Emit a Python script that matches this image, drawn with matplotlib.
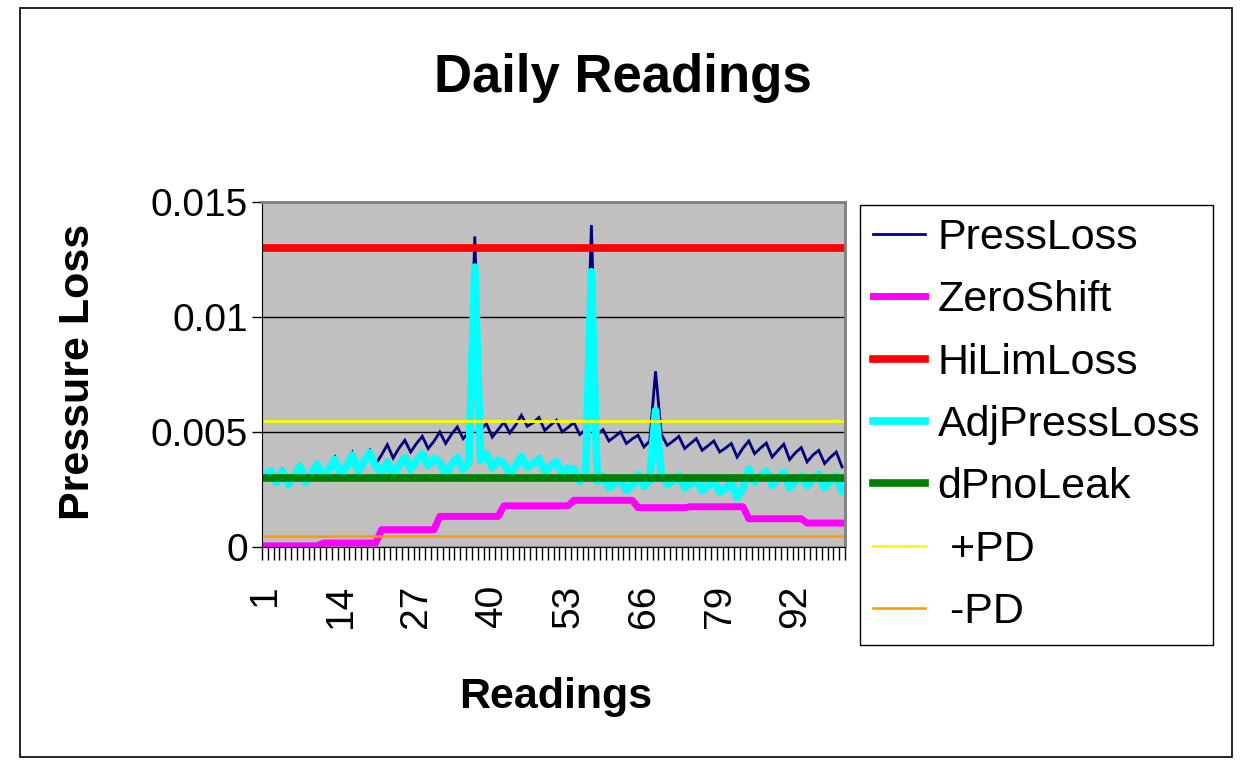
import matplotlib
matplotlib.use("Agg")
import matplotlib.pyplot as plt
from matplotlib.patches import Rectangle

plt.rcParams['font.family'] = ['Liberation Sans', 'DejaVu Sans']

# Readings 1..100
readings = list(range(1, 101))

press_loss = [
    0.00315, 0.00335, 0.00285, 0.00335, 0.00275, 0.00315, 0.00355, 0.00285, 0.00325, 0.00365,
    0.00310, 0.00350, 0.00390, 0.00320, 0.00360, 0.00410, 0.00340, 0.00380, 0.00420, 0.00360,
    0.00400, 0.00445, 0.00387, 0.00430, 0.00464, 0.00413, 0.00450, 0.00481, 0.00428, 0.00460,
    0.00500, 0.00450, 0.00490, 0.00522, 0.00471, 0.00500, 0.01350, 0.00510, 0.00536, 0.00478,
    0.00510, 0.00543, 0.00496, 0.00530, 0.00573, 0.00525, 0.00540, 0.00563, 0.00507, 0.00530,
    0.00551, 0.00500, 0.00520, 0.00541, 0.00489, 0.00510, 0.01400, 0.00490, 0.00510, 0.00461,
    0.00480, 0.00500, 0.00450, 0.00470, 0.00486, 0.00435, 0.00460, 0.00764, 0.00490, 0.00442,
    0.00460, 0.00481, 0.00428, 0.00450, 0.00471, 0.00420, 0.00440, 0.00461, 0.00413, 0.00430,
    0.00450, 0.00391, 0.00430, 0.00461, 0.00406, 0.00430, 0.00452, 0.00391, 0.00420, 0.00447,
    0.00380, 0.00410, 0.00432, 0.00370, 0.00400, 0.00420, 0.00363, 0.00390, 0.00413, 0.00348,
]

zero_shift = (
    [0.00005] * 10 + [0.00017] * 10 + [0.00075] * 10 + [0.00133] * 11 + [0.00179] * 12
    + [0.00203] * 11 + [0.00171] * 9 + [0.00175] * 10 + [0.00123] * 10 + [0.00104] * 7
)

adj_press_loss = [
    0.00310, 0.00330, 0.00280, 0.00330, 0.00270, 0.00310, 0.00350, 0.00280, 0.00320, 0.00360,
    0.00300, 0.00340, 0.00380, 0.00310, 0.00350, 0.00400, 0.00330, 0.00370, 0.00410, 0.00350,
    0.00325, 0.00370, 0.00312, 0.00355, 0.00389, 0.00338, 0.00375, 0.00406, 0.00353, 0.00385,
    0.00367, 0.00317, 0.00357, 0.00389, 0.00338, 0.00367, 0.01217, 0.00377, 0.00403, 0.00345,
    0.00377, 0.00364, 0.00317, 0.00351, 0.00394, 0.00346, 0.00361, 0.00384, 0.00328, 0.00351,
    0.00372, 0.00321, 0.00341, 0.00338, 0.00286, 0.00307, 0.01197, 0.00287, 0.00307, 0.00258,
    0.00277, 0.00297, 0.00247, 0.00267, 0.00315, 0.00264, 0.00289, 0.00593, 0.00319, 0.00271,
    0.00289, 0.00310, 0.00257, 0.00275, 0.00296, 0.00245, 0.00265, 0.00286, 0.00238, 0.00255,
    0.00275, 0.00216, 0.00255, 0.00338, 0.00283, 0.00307, 0.00329, 0.00268, 0.00297, 0.00324,
    0.00257, 0.00287, 0.00309, 0.00266, 0.00296, 0.00316, 0.00259, 0.00286, 0.00309, 0.00244,
]

hi_lim_loss = [0.013] * 100
dp_no_leak = [0.003] * 100
plus_pd = [0.0055] * 100
minus_pd = [0.0005] * 100

tick_labels = [1, 14, 27, 40, 53, 66, 79, 92]

fig = plt.figure(figsize=(12.41, 7.66), dpi=100)
fig.patches.append(Rectangle((20 / 1241, 1 - 757 / 766), 1212 / 1241, 749 / 766,
                             transform=fig.transFigure, fill=False, edgecolor='black',
                             linewidth=1.2))

ax = fig.add_axes([262 / 1241, 1 - 547 / 766, 583 / 1241, 345 / 766])
ax.set_facecolor('#C0C0C0')

ax.plot(readings, press_loss, color='#000080', lw=2.0, label='PressLoss', solid_joinstyle='miter')
ax.plot(readings, zero_shift, color='#FF00FF', lw=5.0, label='ZeroShift')
ax.plot(readings, hi_lim_loss, color='#FF0000', lw=5.5, label='HiLimLoss')
ax.plot(readings, adj_press_loss, color='#00FFFF', lw=5.5, label='AdjPressLoss')
ax.plot(readings, dp_no_leak, color='#008000', lw=5.5, label='dPnoLeak')
ax.plot(readings, plus_pd, color='#FFFF00', lw=2.0, label=' +PD')
ax.plot(readings, minus_pd, color='#FF9900', lw=1.8, label=' -PD')

ax.set_xlim(0.5, 100.5)
ax.set_ylim(0, 0.015)
ax.set_yticks([0, 0.005, 0.01, 0.015])
ax.set_yticklabels(['0', '0.005', '0.01', '0.015'], fontsize=28)
ax.grid(axis='y', color='black', lw=1)
ax.set_axisbelow(True)

ax.set_xticks(tick_labels)
ax.set_xticklabels([str(t) for t in tick_labels], rotation=90, fontsize=28)
ax.set_xticks([i + 0.5 for i in range(0, 101)], minor=True)
ax.tick_params(axis='x', which='major', length=0, pad=27)
ax.tick_params(axis='x', which='minor', length=9, width=1, direction='out')
ax.tick_params(axis='y', length=7, width=1, pad=3)

for side in ['top', 'right']:
    ax.spines[side].set_color('#808080')
    ax.spines[side].set_linewidth(2)
ax.spines['left'].set_color('black')
ax.spines['bottom'].set_color('black')

fig.text(623 / 1241, 1 - 78 / 766, 'Daily Readings', fontsize=38, fontweight='bold',
         ha='center', va='center')
fig.text(556 / 1241, 1 - 697 / 766, 'Readings', fontsize=31, fontweight='bold',
         ha='center', va='center')
fig.text(78 / 1241, 1 - 372 / 766, 'Pressure Loss', fontsize=31, fontweight='bold',
         ha='center', va='center', rotation=90)

leg = fig.legend(loc='upper left', bbox_to_anchor=(860 / 1241, 1 - 205 / 766),
                 fontsize=31, frameon=True, fancybox=False, framealpha=1,
                 edgecolor='black', borderaxespad=0, handlelength=1.2,
                 handletextpad=0.3, labelspacing=0.52, borderpad=0.3)
leg.get_frame().set_linewidth(1)

fig.savefig('out.png', dpi=100)
